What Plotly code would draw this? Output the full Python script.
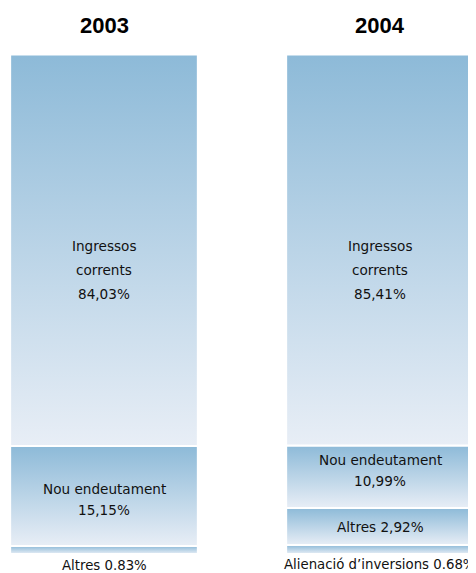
import plotly.graph_objects as go

years = ['2003', '2004']

# segment sizes as drawn in the picture (share of bar height, bottom to top)
sizes_2003 = [1.6, 20.0, 78.4]
labels_2003 = ['Altres 0.83%', 'Nou endeutament<br>15,15%', 'Ingressos<br>corrents<br>84,03%']

sizes_2004 = [1.8, 7.4, 12.5, 78.3]
labels_2004 = ['Alienació d’inversions 0.68%', 'Altres 2,92%',
               'Nou endeutament<br>10,99%', 'Ingressos<br>corrents<br>85,41%']

# small vertical nudges for the labels (px, positive = up)
nudge_2003 = [-1, -3, -20]
nudge_2004 = [0, 0, 6, -20]

DARK = '#8dbad8'
LIGHT = '#e8eef6'
TEXT = '#111111'
FONT = 'DejaVu Sans'

fig = go.Figure()


def add_stack(xc, sizes, labels, nudges, half_w=0.34):
    base = 0
    for i, (s, lab, nd) in enumerate(zip(sizes, labels, nudges)):
        y0, y1 = base, base + s
        fig.add_trace(go.Scatter(
            x=[xc - half_w, xc + half_w, xc + half_w, xc - half_w, xc - half_w],
            y=[y0, y0, y1, y1, y0],
            mode='lines', fill='toself',
            line=dict(color='white', width=2),
            fillgradient=dict(type='vertical', colorscale=[[0, LIGHT], [1, DARK]],
                              start=y0, stop=y1),
            hoverinfo='skip', showlegend=False,
        ))

        lines = lab.split('<br>')
        if i == 0:
            # the thin bottom slice gets its label under the bar
            y_anchor, shift0, size = y0, -10, 13.3
        else:
            y_anchor, shift0, size = (y0 + y1) / 2, 0, 13.6
        step = 24 if len(lines) == 3 else 21
        n = len(lines)
        for k, line in enumerate(lines):
            fig.add_annotation(
                x=xc, y=y_anchor, text=line, showarrow=False,
                xanchor='center', yanchor='middle',
                yshift=shift0 + nd + ((n - 1) / 2 - k) * step,
                font=dict(family=FONT, size=size, color=TEXT),
            )
        base = y1

    fig.add_annotation(
        x=xc, y=base, text='<b>%s</b>' % years[int(xc)], showarrow=False,
        xanchor='center', yanchor='middle', yshift=29,
        font=dict(family='Liberation Sans', size=22, color='black'),
    )


add_stack(0, sizes_2003, labels_2003, nudge_2003)
add_stack(1, sizes_2004, labels_2004, nudge_2004)

# page body adds an 8px offset, so the figure is 8px smaller than the window
fig.update_layout(
    width=468, height=565,
    margin=dict(l=0, r=0, t=0, b=0),
    paper_bgcolor='white', plot_bgcolor='white',
    xaxis=dict(range=[-0.3478, 1.3478], visible=False, fixedrange=True),
    yaxis=dict(range=[-3.8, 109.3], visible=False, fixedrange=True),
    showlegend=False,
)

fig.write_html('out.html')
